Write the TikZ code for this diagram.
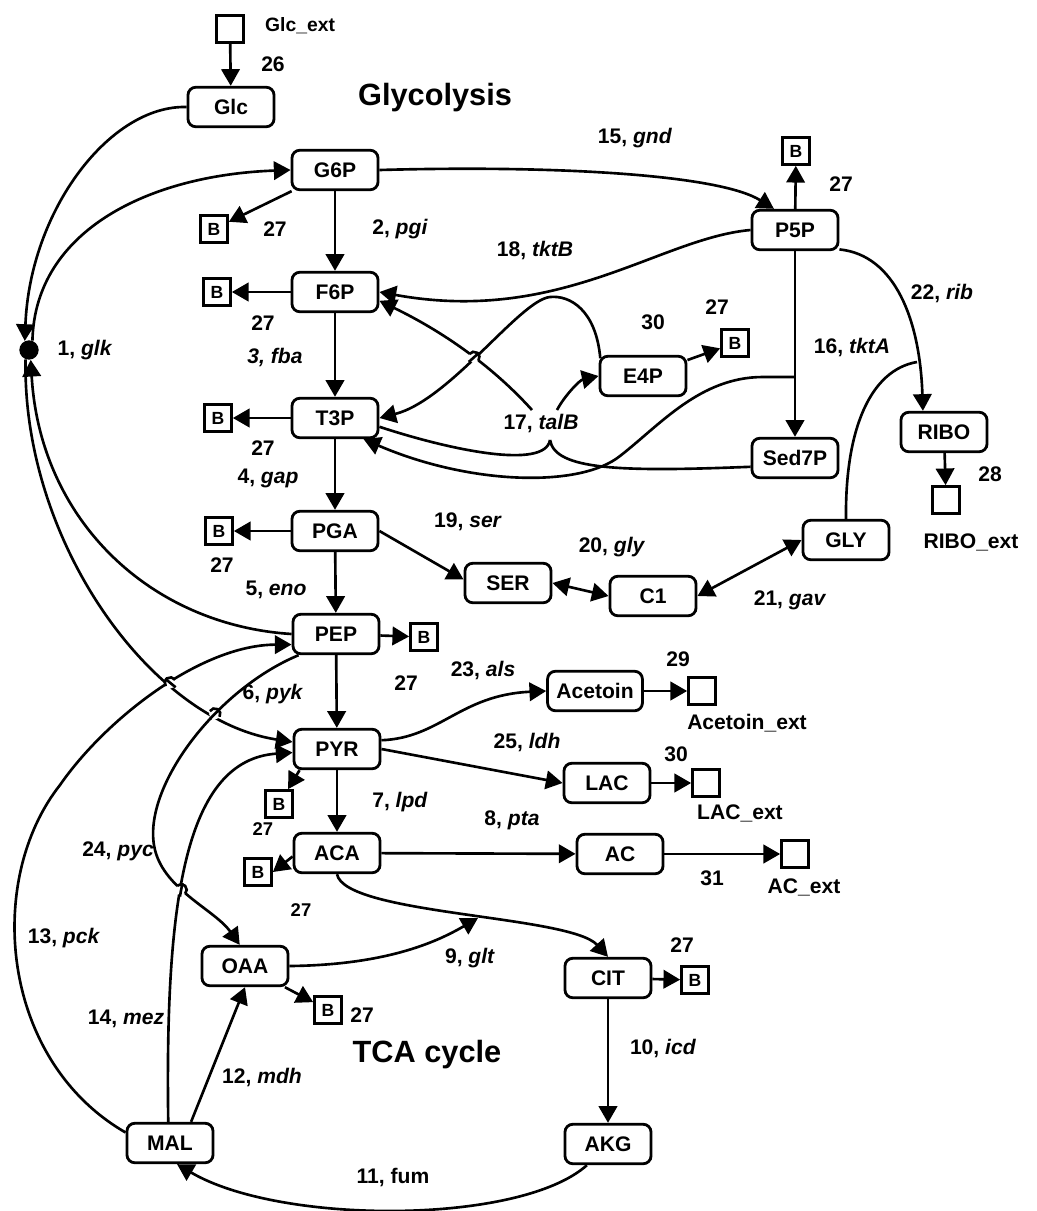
\documentclass[tikz,border=0pt]{standalone}
\usepackage{fontspec}
\setmainfont{Liberation Sans}
\usetikzlibrary{arrows.meta,intersections}

\begin{document}
\begin{tikzpicture}[x=0.02cm, y=-0.02cm,
  met/.style={draw, line width=1.6pt, rounded corners=4.5pt, minimum width=49pt, minimum height=22.5pt, inner xsep=5pt, font=\fontsize{12}{14}\selectfont\bfseries},
  bio/.style={draw, line width=1.4pt, minimum size=15.5pt, inner sep=0pt, font=\fontsize{10}{12}\selectfont\bfseries},
  sink/.style={draw, line width=1.4pt, minimum size=15.5pt, inner sep=0pt},
  lab/.style={font=\fontsize{12}{14}\selectfont\bfseries},
  slab/.style={font=\fontsize{10.5}{12}\selectfont\bfseries},
  title/.style={font=\fontsize{17.5}{20}\selectfont\bfseries},
  flux/.style={line width=1.5pt, -{Triangle[length=9.5pt,width=10.5pt]}},
  rev/.style={line width=1.5pt, {Triangle[length=9.5pt,width=10.5pt]}-{Triangle[length=9.5pt,width=10.5pt]}},
  link/.style={line width=1.5pt},
]
\useasboundingbox (0,0) rectangle (1037,1211);

% Glycolysis
\node[sink] (Glcext) at (230,29) {};
\node[met] (Glc) at (231,107) {Glc};
\node[met] (G6P) at (335,170) {G6P};
\node[met] (F6P) at (335,292) {F6P};
\node[met] (T3P) at (335,418) {T3P};
\node[met] (PGA) at (335,531) {PGA};
\node[met] (PEP) at (336,634) {PEP};
\node[met] (PYR) at (337,749) {PYR};
\node[met] (ACA) at (337,853) {ACA};
\node[circle, fill, inner sep=0pt, minimum size=11pt] (glk) at (29,350) {};

% Pentose phosphate and amino acids
\node[met] (P5P) at (795,230) {P5P};
\node[met] (E4P) at (643,376) {E4P};
\node[met] (Sed7P) at (795,458) {Sed7P};
\node[met] (RIBO) at (944,432) {RIBO};
\node[sink] (RIBOext) at (946,500) {};
\node[met] (SER) at (508,583) {SER};
\node[met] (C1) at (653,596) {C1};
\node[met] (GLY) at (846,540) {GLY};

% Products
\node[met] (Acetoin) at (595,691) {Acetoin};
\node[sink] (Acetoinext) at (702,691) {};
\node[met] (LAC) at (607,783) {LAC};
\node[sink] (LACext) at (706,783) {};
\node[met] (AC) at (620,854) {AC};
\node[sink] (ACext) at (795,854) {};

% TCA cycle
\node[met] (CIT) at (608,978) {CIT};
\node[met] (AKG) at (608,1144) {AKG};
\node[met] (MAL) at (170,1143) {MAL};
\node[met] (OAA) at (245,966) {OAA};

% Biomass drains
\node[bio] (bG6P) at (214,229) {B};
\node[bio] (bF6P) at (217,292) {B};
\node[bio] (bT3P) at (218,418) {B};
\node[bio] (bPGA) at (219,531) {B};
\node[bio] (bPEP) at (424,637) {B};
\node[bio] (bPYR) at (279,804) {B};
\node[bio] (bACA) at (258,872) {B};
\node[bio] (bOAA) at (328,1010) {B};
\node[bio] (bCIT) at (695,980) {B};
\node[bio] (bP5P) at (796,151) {B};
\node[bio] (bE4P) at (735,343) {B};

% Junctions
\coordinate (tktAj) at (795,377);
\coordinate (talBj) at (550,440);
\coordinate (ribj) at (917,362);
\coordinate (gltj) at (478,918);

% Titles and labels
\node[title] (tGly) at (435,98) {Glycolysis};
\node[title] (tTCA) at (427,1055) {TCA cycle};
\node[font=\fontsize{11}{13}\selectfont\bfseries, anchor=west] (lGlcext) at (259,26) {Glc\_ext};
\node[lab] (l26) at (273,64) {26};
\node[lab] (l15) at (635,138) {15, \textit{gnd}};
\node[lab] (l27a) at (841,184) {27};
\node[lab] (l27b) at (275,229) {27};
\node[lab] (l2) at (400,229) {2, \textit{pgi}};
\node[lab] (l18) at (535,250) {18, \textit{tktB}};
\node[lab] (l22) at (942,293) {22, \textit{rib}};
\node[lab] (l27c) at (263,323) {27};
\node[lab] (l30a) at (653,322) {30};
\node[lab] (l27d) at (717,307) {27};
\node[lab] (l16) at (852,347) {16, \textit{tktA}};
\node[lab] (l1) at (85,350) {1, \textit{glk}};
\node[lab] (l3) at (275,357) {\textit{3, fba}};
\node[lab] (l17) at (541,423) {17, \textit{talB}};
\node[lab] (l27e) at (263,448) {27};
\node[lab] (l28) at (990,474) {28};
\node[lab] (l4) at (268,478) {4, \textit{gap}};
\node[lab] (l19) at (468,522) {19, \textit{ser}};
\node[lab] (l27f) at (222,565) {27};
\node[lab] (lRIBOext) at (971,542) {RIBO\_ext};
\node[lab] (l20) at (612,547) {20, \textit{gly}};
\node[lab] (l5) at (276,590) {5, \textit{eno}};
\node[lab] (l21) at (790,600) {21, \textit{gav}};
\node[lab] (l29) at (678,659) {29};
\node[lab] (l23) at (483,670) {23, \textit{als}};
\node[lab] (l27g) at (406,683) {27};
\node[lab] (l6) at (273,694) {6, \textit{pyk}};
\node[lab] (lAcetoinext) at (747,723) {Acetoin\_ext};
\node[lab] (l25) at (527,742) {25, \textit{ldh}};
\node[lab] (l30b) at (676,754) {30};
\node[lab] (l7) at (400,802) {7, \textit{lpd}};
\node[lab] (lLACext) at (740,813) {LAC\_ext};
\node[lab] (l8) at (512,820) {8, \textit{pta}};
\node[slab] (l27h) at (263,829) {27};
\node[lab] (l24) at (118,851) {24, \textit{pyc}};
\node[lab] (l31) at (712,878) {31};
\node[lab] (lACext) at (804,887) {AC\_ext};
\node[slab] (l27i) at (301,910) {27};
\node[lab] (l13) at (64,938) {13, \textit{pck}};
\node[lab] (l27j) at (682,945) {27};
\node[lab] (l9) at (470,958) {9, \textit{glt}};
\node[lab] (l27k) at (362,1015) {27};
\node[lab] (l14) at (126,1019) {14, \textit{mez}};
\node[lab] (l10) at (663,1048) {10, \textit{icd}};
\node[lab] (l12) at (262,1077) {12, \textit{mdh}};
\node[lab] (l11) at (393,1177) {11, fum};

% Straight fluxes
\draw[flux] (Glcext) -- (Glc);
\draw[flux] (G6P) -- (F6P);
\draw[flux] (F6P) -- (T3P);
\draw[flux] (T3P) -- (PGA);
\draw[flux] (PGA) -- (PEP);
\draw[flux] (PEP) -- (PYR);
\draw[flux] (PYR) -- (ACA);
\draw[flux] (ACA) -- (AC);
\draw[flux] (AC) -- (ACext);
\draw[flux] (PYR.east) -- (LAC.west);
\draw[flux] (LAC) -- (LACext);
\draw[flux] (Acetoin) -- (Acetoinext);
\draw[flux] (CIT) -- (AKG);
\draw[flux] (RIBO) -- (RIBOext);
\draw[flux] (P5P) -- (Sed7P);
\draw[flux] (PGA.east) -- ([yshift=2pt]SER.west);
\draw[rev] (SER.east) -- (C1.west);
\draw[rev] (C1.east) -- (GLY.west);
\draw[flux] ([xshift=12pt]MAL.north) -- (OAA.south);

% Biomass arrows
\draw[flux] (G6P) -- (bG6P);
\draw[flux] (F6P) -- (bF6P);
\draw[flux] (T3P) -- (bT3P);
\draw[flux] (PGA) -- (bPGA);
\draw[flux] (PEP) -- (bPEP);
\draw[flux] ([xshift=4pt]PYR.south west) -- (bPYR);
\draw[flux] ([yshift=-2pt]ACA.west) -- (bACA.east);
\draw[flux] (OAA) -- (bOAA);
\draw[flux] (CIT) -- (bCIT);
\draw[flux] (P5P) -- (bP5P);
\draw[flux] (E4P) -- (bE4P);

% glk (PTS)
\draw[flux] (Glc.west) .. controls (110,105) and (30,210) .. (glk.115);
\draw[flux] (glk.70) .. controls (35,230) and (150,175) .. (G6P.west);
\draw[flux] (PEP.west) .. controls (150,625) and (40,520) .. (glk.-80);
\draw[flux, name path=glkpyr, save path=\pglkpyr] (glk.-110) .. controls (22,540) and (150,720) .. ([yshift=4pt]PYR.west);

% Pentose phosphate
\draw[flux] (G6P.east) .. controls (560,165) and (720,175) .. ([xshift=-12pt]P5P.north);
\draw[flux] ([yshift=1pt]P5P.south east) .. controls (895,255) and (920,320) .. ([xshift=-12pt]RIBO.north);
\draw[link] (GLY.north) .. controls (845,430) and (870,370) .. (ribj);
\draw[flux] (P5P.west) .. controls (660,238) and (560,325) .. (F6P.east);
\draw[flux, name path=tktbe, save path=\ptktbe] ([xshift=1pt,yshift=-2pt]E4P.north west) .. controls (596,310) and (570,295) .. (550,297)
  .. controls (520,300) and (450,400) .. (T3P.east);
\draw[flux] (tktAj) -- (763,377) .. controls (700,377) and (660,425) .. (620,456)
  .. controls (580,488) and (470,485) .. ([xshift=-9pt]T3P.south east);
\draw[link] ([yshift=-5pt]T3P.east) .. controls (450,450) and (545,470) .. (talBj);
\draw[link] ([yshift=-5pt]Sed7P.west) .. controls (620,472) and (555,470) .. (talBj);
\draw[flux, name path=talbf] (532,410) .. controls (505,380) and (460,340) .. ([yshift=-5pt]F6P.east);
\draw[flux] (557,410) .. controls (565,395) and (580,380) .. (E4P.west);

% Overflow products
\draw[flux] ([yshift=5pt]PYR.east) .. controls (440,738) and (460,695) .. (Acetoin.west);

% TCA cycle
\draw[flux] (ACA.south) .. controls (345,915) and (570,915) .. (CIT.north);
\draw[flux] (OAA.east) .. controls (390,965) and (440,940) .. (gltj);
\draw[flux] ([xshift=-12pt]AKG.south) .. controls (520,1225) and (280,1225) .. ([xshift=4pt]MAL.south);
\draw[flux, name path=mez, save path=\pmez] ([xshift=-1pt]MAL.north) .. controls (165,900) and (185,760) .. ([yshift=-2pt]PYR.west);
\draw[flux, name path=pyc, save path=\ppyc] ([xshift=4pt]PEP.south west) .. controls (215,690) and (140,790) .. (155,850)
  .. controls (165,890) and (215,910) .. ([xshift=-3pt]OAA.north);
\draw[flux, name path=pck] ([yshift=6pt]MAL.west) .. controls (0,1060) and (-15,880) .. (60,785)
  .. controls (105,720) and (200,645) .. ([yshift=-6pt]PEP.west);

% Line hops
\path[name intersections={of=talbf and tktbe, by=hopA}];
\path[name intersections={of=pck and glkpyr, by=hopB}];
\path[name intersections={of=glkpyr and pyc, by=hopC}];
\path[name intersections={of=pyc and mez, by=hopD}];
\fill[white] (hopA) circle (3.2pt) (hopB) circle (3.2pt) (hopC) circle (3.2pt) (hopD) circle (3.2pt);
\begin{scope}
  \clip (hopA) circle (4pt);
  \draw[link, use path=\ptktbe];
\end{scope}
\begin{scope}
  \clip (hopB) circle (4pt);
  \draw[link, use path=\pglkpyr];
\end{scope}
\begin{scope}
  \clip (hopC) circle (4pt);
  \draw[link, use path=\ppyc];
\end{scope}
\begin{scope}
  \clip (hopD) circle (4pt);
  \draw[link, use path=\pmez];
\end{scope}
\draw[link] ([shift={(144:3.2pt)}]hopA) arc[start angle=144, end angle=-36, radius=3.2pt];
\draw[link] ([shift={(215:3.2pt)}]hopB) arc[start angle=215, end angle=35, radius=3.2pt];
\draw[link] ([shift={(150:3.2pt)}]hopC) arc[start angle=150, end angle=-30, radius=3.2pt];
\draw[link] ([shift={(135:3.2pt)}]hopD) arc[start angle=135, end angle=-45, radius=3.2pt];

\end{tikzpicture}
\end{document}
